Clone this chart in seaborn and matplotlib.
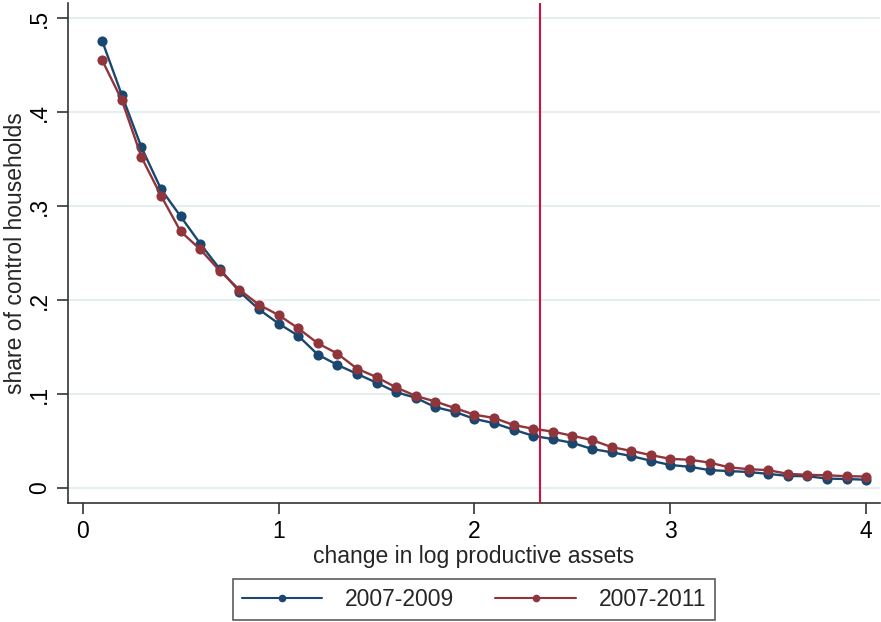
#!/usr/bin/env python3
"""
Share of control households above a given change in log productive assets
"""

import matplotlib.pyplot as plt
import seaborn as sns
import pandas as pd
from matplotlib.lines import Line2D

# Datos
asset_change = [0.1, 0.2, 0.3, 0.4, 0.5, 0.6, 0.7, 0.8, 0.9, 1.0,
                1.1, 1.2, 1.3, 1.4, 1.5, 1.6, 1.7, 1.8, 1.9, 2.0,
                2.1, 2.2, 2.3, 2.4, 2.5, 2.6, 2.7, 2.8, 2.9, 3.0,
                3.1, 3.2, 3.3, 3.4, 3.5, 3.6, 3.7, 3.8, 3.9, 4.0]
share_0709 = [0.4755, 0.418, 0.3625, 0.318, 0.289, 0.260, 0.233, 0.209, 0.190, 0.175,
              0.162, 0.142, 0.131, 0.1215, 0.112, 0.102, 0.096, 0.086, 0.081, 0.0735,
              0.069, 0.062, 0.0555, 0.052, 0.048, 0.0415, 0.038, 0.034, 0.029, 0.0245,
              0.0225, 0.019, 0.018, 0.017, 0.015, 0.0128, 0.0125, 0.010, 0.0095, 0.0088]
share_0711 = [0.455, 0.4126, 0.352, 0.311, 0.273, 0.254, 0.231, 0.211, 0.195, 0.184,
              0.170, 0.154, 0.143, 0.127, 0.118, 0.107, 0.098, 0.092, 0.085, 0.078,
              0.0745, 0.067, 0.063, 0.060, 0.0555, 0.051, 0.0435, 0.0395, 0.035, 0.031,
              0.030, 0.027, 0.022, 0.020, 0.019, 0.015, 0.014, 0.0135, 0.0125, 0.0122]
periods = ['2007-2009', '2007-2011']
threshold = 2.336

x_ticks = [0, 1, 2, 3, 4]
y_ticks = [0, 0.1, 0.2, 0.3, 0.4, 0.5]
y_tick_labels = ['0', '.1', '.2', '.3', '.4', '.5']

colors = {'2007-2009': '#1A476F', '2007-2011': '#90353B'}

df = pd.concat([
    pd.DataFrame({'x': asset_change, 'share': share_0709, 'period': periods[0]}),
    pd.DataFrame({'x': asset_change, 'share': share_0711, 'period': periods[1]}),
], ignore_index=True)

sns.set_theme(style='white')
plt.rcParams['font.family'] = ['Liberation Sans', 'DejaVu Sans']

fig = plt.figure(figsize=(8.81, 6.22), dpi=100)
ax = fig.add_axes([0.0772, 0.1913, 0.9216, 0.8037])

sns.lineplot(data=df, x='x', y='share', hue='period', hue_order=periods,
             palette=colors, marker='o', markersize=7.3, markeredgewidth=0,
             linewidth=1.7, legend=False, ax=ax)

ax.axvline(threshold, color='#CE123E', linewidth=1.5, zorder=5)

ax.set_xlim(-0.075, 4.07)
ax.set_ylim(-0.016, 0.516)
ax.set_xticks(x_ticks)
ax.set_xticklabels([str(t) for t in x_ticks], fontsize=16.5)
ax.set_yticks(y_ticks)
ax.set_yticklabels(y_tick_labels, fontsize=16.5, rotation=90, va='center')

ax.yaxis.grid(True, color='#E6EEF1', linewidth=1.5)
ax.xaxis.grid(False)
ax.set_axisbelow(True)

for side in ['top', 'right']:
    ax.spines[side].set_visible(False)
for side in ['left', 'bottom']:
    ax.spines[side].set_color('#333333')
    ax.spines[side].set_linewidth(1.2)
ax.tick_params(axis='both', direction='out', length=8, width=1.2,
               color='#333333', labelcolor='black', pad=4,
               bottom=True, left=True)

ax.set_xlabel('change in log productive assets', fontsize=16.5, labelpad=2)
ax.set_ylabel('share of control households', fontsize=16.5, labelpad=1)

handles = [Line2D([0], [0], color=colors[p], linewidth=1.5, marker='o',
                  markersize=5.5, markeredgewidth=0) for p in periods]
leg = ax.legend(handles, periods, loc='upper center', bbox_to_anchor=(0.5, -0.152),
                ncol=2, fontsize=16.5, frameon=True, fancybox=False,
                handlelength=3.5, handletextpad=1.0, columnspacing=1.8,
                borderpad=0.4, borderaxespad=0)
leg.get_frame().set_edgecolor('#333333')
leg.get_frame().set_linewidth(1.2)

fig.savefig('out.png', dpi=100)
plt.close(fig)
